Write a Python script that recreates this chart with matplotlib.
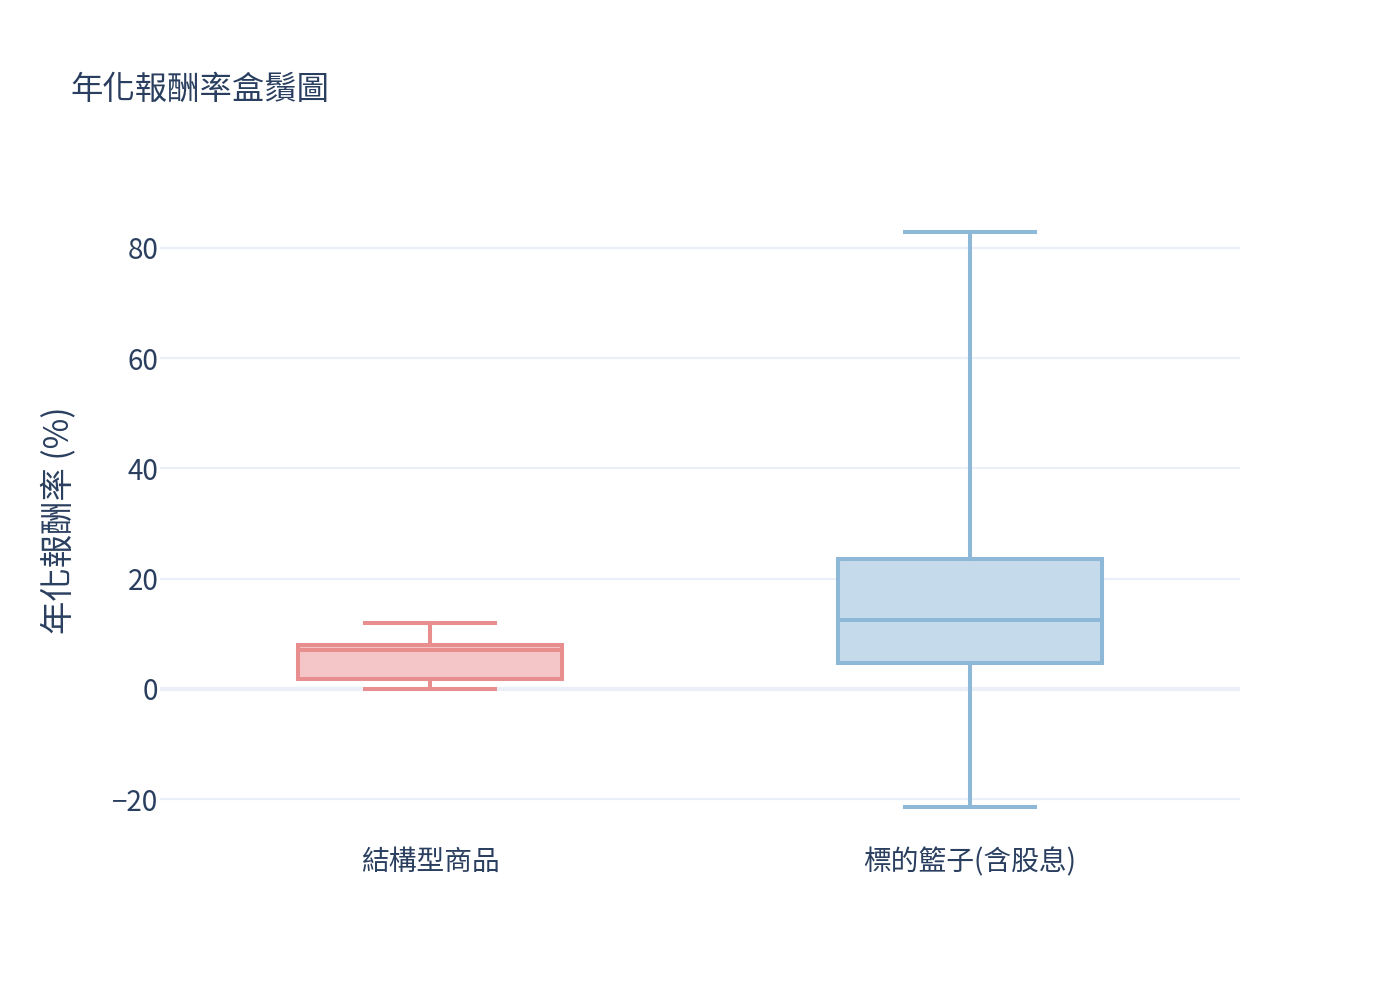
import matplotlib
matplotlib.use("Agg")
import matplotlib.pyplot as plt

plt.rcParams['font.family'] = ['Noto Sans CJK TC', 'DejaVu Sans']

# 資料
categories = ["結構型商品", "標的籃子(含股息)"]
whislo = [0.0, -21.5]
q1 = [1.8, 4.7]
med = [7.1, 12.5]
q3 = [8.0, 23.6]
whishi = [12.0, 82.9]
line_colors = ["#E88E8E", "#8DB8D8"]
fill_colors = ["#F4C6C8", "#C5DBEB"]
yticks = [-20, 0, 20, 40, 60, 80]

text_color = "#2a3f5f"
grid_color = "#EBF0F8"

fig = plt.figure(figsize=(14, 10), dpi=100)
ax = fig.add_axes([160/1400, 160/1000, 1080/1400, 640/1000])

stats = []
for i in range(len(categories)):
    stats.append(dict(label=categories[i], whislo=whislo[i], q1=q1[i], med=med[i],
                      q3=q3[i], whishi=whishi[i], fliers=[]))

for i, s in enumerate(stats):
    c = line_colors[i]
    ax.bxp([s], positions=[i], widths=0.49, capwidths=0.24, patch_artist=True,
           showfliers=False,
           boxprops=dict(facecolor=fill_colors[i], edgecolor=c, linewidth=2.9),
           medianprops=dict(color=c, linewidth=2.9),
           whiskerprops=dict(color=c, linewidth=2.9),
           capprops=dict(color=c, linewidth=2.9), zorder=3)

ax.set_xlim(-0.5, 1.5)
ax.set_ylim(-27.4, 88.7)
ax.set_xticks(range(len(categories)))
ax.set_xticklabels(categories)
ax.set_yticks(yticks)
ax.yaxis.grid(True, color=grid_color, linewidth=1.6, zorder=0)
ax.axhline(0, color=grid_color, linewidth=3, zorder=1)
ax.set_axisbelow(True)
for sp in ax.spines.values():
    sp.set_visible(False)
ax.tick_params(axis='both', length=0, labelsize=20, colors=text_color)
ax.tick_params(axis='x', pad=5)
ax.tick_params(axis='y', pad=1)
ax.set_ylabel("年化報酬率 (%)", fontsize=24, color=text_color, labelpad=26)

fig.text(0.05, 1 - 90/1000, "年化報酬率盒鬚圖", fontsize=23.3, color=text_color,
         ha='left', va='center')

fig.savefig("out.png", dpi=100, facecolor="white")
